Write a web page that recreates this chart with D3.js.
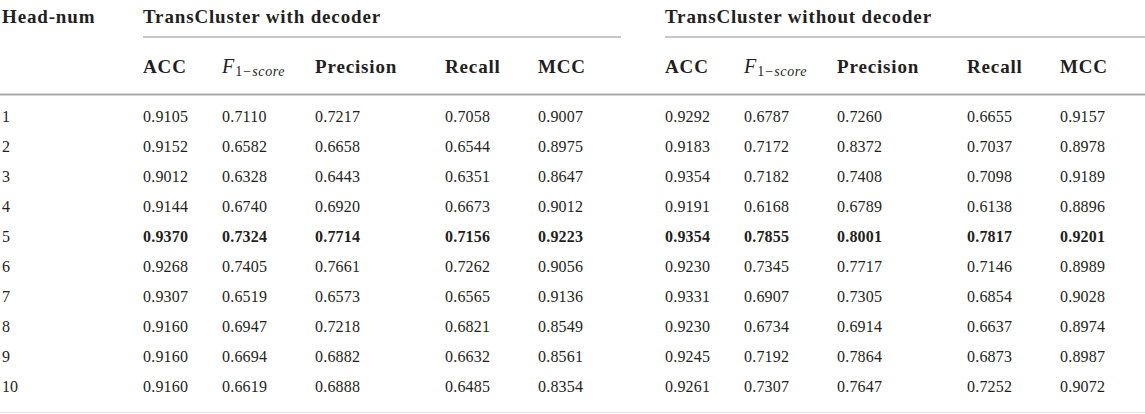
<!DOCTYPE html>
<html lang="en">
<head>
<meta charset="utf-8">
<script src="https://d3js.org/d3.v7.min.js"></script>
<style>
  body { margin: 0; background: #fff; }
  text { font-family: "Liberation Serif", "DejaVu Serif", serif; fill: #231f20; }
</style>
</head>
<body>
<script>
  var width = 1145,
      height = 414;

  // table data
  var headNum = ["1", "2", "3", "4", "5", "6", "7", "8", "9", "10"];
  var groups = ["TransCluster with decoder", "TransCluster without decoder"];
  var metrics = ["ACC", "F1", "Precision", "Recall", "MCC"];
  var withDecoder = [
    ["0.9105", "0.7110", "0.7217", "0.7058", "0.9007"],
    ["0.9152", "0.6582", "0.6658", "0.6544", "0.8975"],
    ["0.9012", "0.6328", "0.6443", "0.6351", "0.8647"],
    ["0.9144", "0.6740", "0.6920", "0.6673", "0.9012"],
    ["0.9370", "0.7324", "0.7714", "0.7156", "0.9223"],
    ["0.9268", "0.7405", "0.7661", "0.7262", "0.9056"],
    ["0.9307", "0.6519", "0.6573", "0.6565", "0.9136"],
    ["0.9160", "0.6947", "0.7218", "0.6821", "0.8549"],
    ["0.9160", "0.6694", "0.6882", "0.6632", "0.8561"],
    ["0.9160", "0.6619", "0.6888", "0.6485", "0.8354"]
  ];
  var withoutDecoder = [
    ["0.9292", "0.6787", "0.7260", "0.6655", "0.9157"],
    ["0.9183", "0.7172", "0.8372", "0.7037", "0.8978"],
    ["0.9354", "0.7182", "0.7408", "0.7098", "0.9189"],
    ["0.9191", "0.6168", "0.6789", "0.6138", "0.8896"],
    ["0.9354", "0.7855", "0.8001", "0.7817", "0.9201"],
    ["0.9230", "0.7345", "0.7717", "0.7146", "0.8989"],
    ["0.9331", "0.6907", "0.7305", "0.6854", "0.9028"],
    ["0.9230", "0.6734", "0.6914", "0.6637", "0.8974"],
    ["0.9245", "0.7192", "0.7864", "0.6873", "0.8987"],
    ["0.9261", "0.7307", "0.7647", "0.7252", "0.9072"]
  ];
  var boldRow = "5";

  // layout
  var groupX = d3.scaleOrdinal().domain(groups).range([143, 665]);
  var colX = d3.scaleOrdinal().domain(metrics).range([0, 79, 172, 302, 395]);
  var rowY = d3.scaleBand().domain(headNum).range([101, 401]);

  var svg = d3.select("body").append("svg")
    .attr("width", width)
    .attr("height", height);

  // rules
  svg.selectAll("line.group")
    .data(groups)
    .join("line")
    .attr("x1", function(d) { return groupX(d); })
    .attr("x2", function(d, i) { return i === 0 ? 621 : width; })
    .attr("y1", 37).attr("y2", 37)
    .attr("stroke", "#b4b4b4").attr("stroke-width", 1.5);

  svg.append("line")
    .attr("x1", 0).attr("x2", width)
    .attr("y1", 94.5).attr("y2", 94.5)
    .attr("stroke", "#a8a8a8").attr("stroke-width", 2);

  svg.append("line")
    .attr("x1", 0).attr("x2", width)
    .attr("y1", 412.5).attr("y2", 412.5)
    .attr("stroke", "#e6e6e6").attr("stroke-width", 1.5);

  // headers
  svg.append("text")
    .attr("x", 2).attr("y", 23)
    .attr("font-size", 19).attr("font-weight", "bold")
    .attr("letter-spacing", 0.85)
    .text("Head-num");

  svg.selectAll("text.grp")
    .data(groups)
    .join("text")
    .attr("class", "grp")
    .attr("x", function(d) { return groupX(d); })
    .attr("y", 23)
    .attr("font-size", 19).attr("font-weight", "bold")
    .attr("letter-spacing", 0.85)
    .text(function(d) { return d; });

  groups.forEach(function(g) {
    var hdr = svg.selectAll(null)
      .data(metrics)
      .join("text")
      .attr("x", function(d) { return groupX(g) + colX(d); })
      .attr("y", 73)
      .attr("font-size", 19);
    hdr.filter(function(d) { return d !== "F1"; })
      .attr("font-weight", "bold")
      .attr("letter-spacing", 0.85)
      .text(function(d) { return d; });
    var f = hdr.filter(function(d) { return d === "F1"; });
    f.append("tspan").attr("font-style", "italic").attr("font-size", 20).text("F");
    f.append("tspan").attr("font-size", 14).attr("dy", 3).attr("dx", 1).text("1");
    f.append("tspan").attr("font-size", 14).attr("font-style", "italic")
      .attr("letter-spacing", 0.6).text("\u2212score");
  });

  // body rows
  svg.selectAll("text.num")
    .data(headNum)
    .join("text")
    .attr("class", "num")
    .attr("x", 2)
    .attr("y", function(d) { return rowY(d) + rowY.bandwidth() / 2 + 5.5; })
    .attr("font-size", 16)
    .text(function(d) { return d; });

  [withDecoder, withoutDecoder].forEach(function(rows, gi) {
    var g = groups[gi];
    rows.forEach(function(row, ri) {
      var key = headNum[ri];
      svg.selectAll(null)
        .data(row)
        .join("text")
        .attr("x", function(d, ci) { return groupX(g) + colX(metrics[ci]); })
        .attr("y", rowY(key) + rowY.bandwidth() / 2 + 5.5)
        .attr("font-size", 16)
        .attr("letter-spacing", 0.2)
        .attr("font-weight", key === boldRow ? "bold" : "normal")
        .text(function(d) { return d; });
    });
  });
</script>
</body>
</html>
